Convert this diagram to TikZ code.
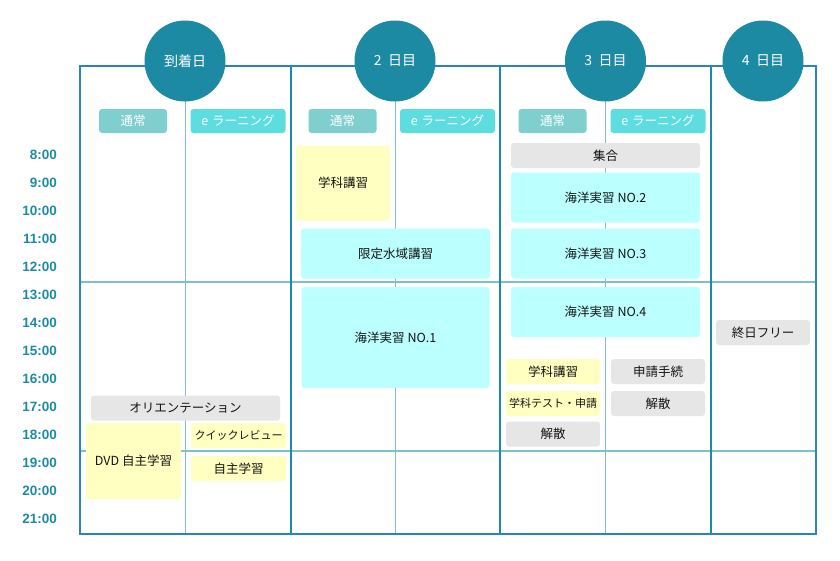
\documentclass[tikz,border=0pt]{standalone}
\usepackage{fontspec}
\setmainfont{Noto Sans CJK JP}
\newfontfamily\timefont{Liberation Sans}
\usetikzlibrary{positioning}
\definecolor{dayteal}{RGB}{28,138,163}
\definecolor{frameblue}{RGB}{40,130,195}
\definecolor{sublinecol}{RGB}{125,192,204}
\definecolor{normalcol}{RGB}{128,207,207}
\definecolor{elearncol}{RGB}{93,221,224}
\definecolor{lecyellow}{RGB}{255,255,194}
\definecolor{seacyan}{RGB}{187,255,255}
\definecolor{miscgray}{RGB}{230,230,230}

\tikzset{
  daycircle/.style={circle, fill=dayteal, minimum size=81, inner sep=0, text=white, font=\fontsize{14}{16}\selectfont},
  kindbox/.style={rounded corners=3, minimum height=24, inner sep=0, text=white, font=\fontsize{12.5}{14}\selectfont},
  evbox/.style={rounded corners=3, inner sep=0, text=black!92, font=\fontsize{12.5}{15}\selectfont},
  lecbox/.style={evbox, fill=lecyellow},
  seabox/.style={evbox, fill=seacyan},
  graybox/.style={evbox, fill=miscgray},
  smalltext/.style={font=\fontsize{11}{13}\selectfont},
  timelbl/.style={anchor=east, inner sep=0, text=dayteal, font=\timefont\bfseries\fontsize{13.5}{15}\selectfont}
}

\begin{document}
\begin{tikzpicture}[x=1pt, y=-1pt]
\useasboundingbox (0,0) rectangle (840,560);

% Grid
\foreach \x in {185,395,605}
  \draw[sublinecol, line width=1] (\x,66) -- (\x,534);
\draw[sublinecol, line width=2] (80,282) -- (816,282);
\draw[sublinecol, line width=2] (80,451) -- (816,451);
\foreach \x in {291,500,711}
  \draw[dayteal, line width=1.2] (\x,66) -- (\x,534);
\draw[frameblue, line width=1.5] (80,66) rectangle (816,534);

% Times
\foreach \h [count=\i from 0] in {8,...,21}
  \node[timelbl] (t\h) at (57,155+28*\i) {\h:00};

% Days
\node[daycircle] (day1) at (185,61) {到着日};
\node[daycircle] (day2) at (395,61) {2\hspace{0.45em}日目};
\node[daycircle] (day3) at (605.5,61) {3\hspace{0.45em}日目};
\node[daycircle] (day4) at (763,61) {4\hspace{0.45em}日目};

% Course types
\node[kindbox, fill=normalcol, minimum width=68] (d1norm) at (133,121) {通常};
\node[kindbox, fill=elearncol, minimum width=95] (d1elearn) at (238,121) {e\hspace{0.3em}ラーニング};
\node[kindbox, fill=normalcol, minimum width=68] (d2norm) at (342.5,121) {通常};
\node[kindbox, fill=elearncol, minimum width=95] (d2elearn) at (447.5,121) {e\hspace{0.3em}ラーニング};
\node[kindbox, fill=normalcol, minimum width=68] (d3norm) at (552.5,121) {通常};
\node[kindbox, fill=elearncol, minimum width=95] (d3elearn) at (658,121) {e\hspace{0.3em}ラーニング};

% Day 1
\node[graybox, minimum width=189, minimum height=25] (orient) at (185.5,408) {オリエンテーション};
\node[lecbox, minimum width=95, minimum height=76] (dvd) at (133.5,461) {DVD 自主学習};
\node[lecbox, smalltext, minimum width=95, minimum height=25] (quick) at (238.5,435.5) {クイックレビュー};
\node[lecbox, minimum width=95, minimum height=25] (selfstudy) at (238.5,468.5) {自主学習};

% Day 2
\node[lecbox, minimum width=94, minimum height=75] (d2lec) at (343,183) {学科講習};
\node[seabox, minimum width=189, minimum height=50] (confined) at (395.5,253.5) {限定水域講習};
\node[seabox, minimum width=188, minimum height=101] (sea1) at (395.5,337.5) {海洋実習 NO.1};

% Day 3
\node[graybox, minimum width=189, minimum height=25] (assemble) at (605.5,155.5) {集合};
\node[seabox, minimum width=189, minimum height=50] (sea2) at (605.5,197.5) {海洋実習 NO.2};
\node[seabox, minimum width=189, minimum height=50] (sea3) at (605.5,253.5) {海洋実習 NO.3};
\node[seabox, minimum width=189, minimum height=50] (sea4) at (605.5,312) {海洋実習 NO.4};
\node[lecbox, minimum width=94, minimum height=25] (d3lec) at (553,371.5) {学科講習};
\node[lecbox, smalltext, minimum width=94, minimum height=25] (d3test) at (553,403.5) {学科テスト・申請};
\node[graybox, minimum width=94, minimum height=25] (dismissa) at (553,434) {解散};
\node[graybox, minimum width=94, minimum height=25] (apply) at (658,371.5) {申請手続};
\node[graybox, minimum width=94, minimum height=25] (dismissb) at (658,403.5) {解散};

% Day 4
\node[graybox, minimum width=94, minimum height=25] (free) at (763,332.5) {終日フリー};
\end{tikzpicture}
\end{document}
